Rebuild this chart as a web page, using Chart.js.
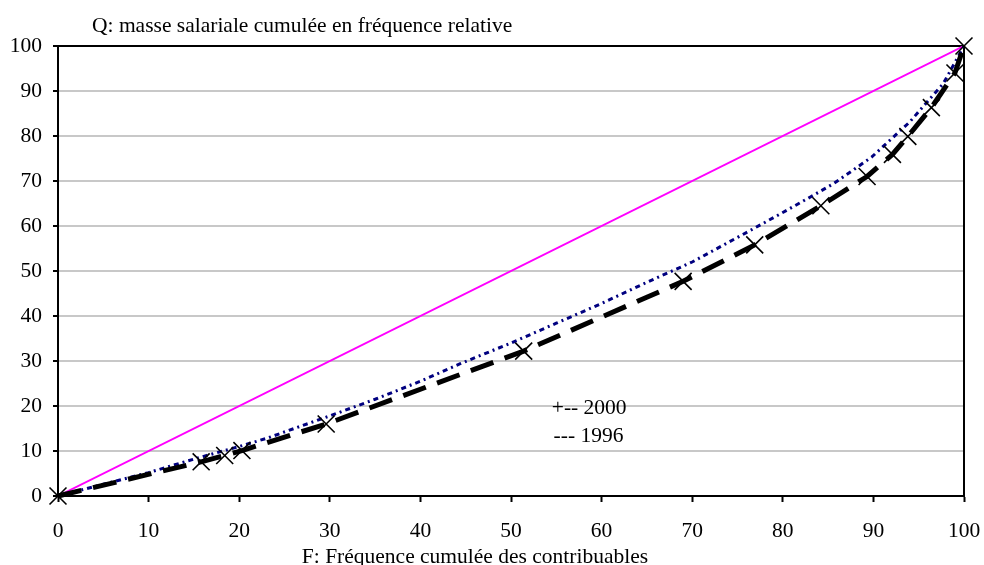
<!DOCTYPE html>
<html>
<head>
<meta charset="utf-8">
<script src="https://cdn.jsdelivr.net/npm/chart.js@4"></script>
<style>
  html, body { margin: 0; padding: 0; background: #fff; }
  #wrap { width: 984px; height: 565px; }
</style>
</head>
<body>
<div id="wrap"><canvas id="courbe"></canvas></div>
<script>
// points de la courbe 1996 (avec croix)
const freq1996 = [0, 15.8, 18.4, 20.3, 29.6, 51.4, 69.0, 76.9, 84.2, 89.3, 92.1, 93.8, 96.4, 99.0, 100];
const masse1996 = [0, 7.6, 9.0, 10.1, 16.0, 32.2, 47.7, 55.8, 64.5, 71.0, 75.9, 79.9, 86.3, 94.0, 100];

// points de la courbe 2000
const freq2000 = [0, 5, 10, 15, 20, 23, 30, 35, 40, 44.4, 50, 55, 60, 65, 70, 76.4, 80, 83, 85.6, 89.8, 94, 97.7, 100];
const masse2000 = [0, 2.6, 5.2, 8.2, 11.0, 12.8, 17.8, 21.5, 25.5, 29.4, 34.0, 38.4, 42.8, 47.5, 52.0, 59.0, 63.0, 66.4, 69.4, 75.3, 83.1, 91.6, 100];

// droite d'égalité
const freqEgalite = [0, 100];
const masseEgalite = [0, 100];

const police = '"Liberation Serif", "Times New Roman", serif';

function points(xs, ys) {
  return xs.map((x, i) => ({ x: x, y: ys[i] }));
}

// textes et cadre de la zone de tracé
const textes = {
  id: 'textes',
  beforeDatasetsDraw(chart) {
    const ctx = chart.ctx;
    const a = chart.chartArea;
    ctx.save();
    ctx.strokeStyle = '#000';
    ctx.lineWidth = 2;
    ctx.strokeRect(a.left, a.top, a.right - a.left, a.bottom - a.top);
    ctx.restore();
  },
  afterDraw(chart) {
    const ctx = chart.ctx;
    const sx = chart.scales.x, sy = chart.scales.y;
    ctx.save();
    ctx.fillStyle = '#000';
    ctx.font = '21.5px ' + police;
    ctx.textBaseline = 'middle';
    ctx.textAlign = 'left';
    ctx.fillText('Q: masse salariale cumulée en fréquence relative', 92, 26);
    ctx.fillText('+-- 2000', sx.getPixelForValue(54.5), sy.getPixelForValue(19.5));
    ctx.fillText('--- 1996', sx.getPixelForValue(54.7), sy.getPixelForValue(13.3));
    ctx.textAlign = 'center';
    ctx.fillText('F: Fréquence cumulée des contribuables', 475, 557);
    ctx.restore();
  }
};

const ctx = document.getElementById('courbe').getContext('2d');
new Chart(ctx, {
  type: 'scatter',
  data: {
    datasets: [
      {
        label: '1996',
        data: points(freq1996, masse1996),
        showLine: true,
        clip: false,
        borderColor: '#000',
        borderWidth: 5,
        borderDash: [24, 12],
        pointStyle: 'crossRot',
        pointRadius: 12,
        pointBorderWidth: 1.6,
        pointBorderColor: '#000',
        pointBackgroundColor: '#000',
        order: 1
      },
      {
        label: '2000',
        data: points(freq2000, masse2000),
        showLine: true,
        borderColor: '#000080',
        borderWidth: 3,
        borderDash: [5, 4, 2, 4],
        pointRadius: 0,
        order: 2
      },
      {
        label: 'égalité',
        data: points(freqEgalite, masseEgalite),
        showLine: true,
        borderColor: '#FF00FF',
        borderWidth: 2,
        pointRadius: 0,
        order: 3
      }
    ]
  },
  options: {
    responsive: true,
    maintainAspectRatio: false,
    animation: false,
    layout: { padding: { top: 46, right: 20, left: 0, bottom: 0 } },
    plugins: {
      legend: { display: false },
      tooltip: { enabled: false }
    },
    scales: {
      x: {
        type: 'linear',
        min: 0,
        max: 100,
        afterFit: s => { s.height = 69; s.paddingLeft = 0; s.paddingRight = 0; },
        ticks: { stepSize: 10, color: '#000', padding: 16, font: { family: police, size: 21.5 } },
        grid: { drawOnChartArea: false, tickLength: 6, tickColor: '#000', tickWidth: 2 },
        border: { color: '#000', width: 2 }
      },
      y: {
        min: 0,
        max: 100,
        afterFit: s => { s.width = 58; s.paddingTop = 0; s.paddingBottom = 0; },
        ticks: { stepSize: 10, color: '#000', padding: 11, font: { family: police, size: 21.5 } },
        grid: { color: '#c8c8c8', lineWidth: 2, tickLength: 5, tickColor: '#000', tickWidth: 2 },
        border: { color: '#000', width: 2 }
      }
    }
  },
  plugins: [textes]
});
</script>
</body>
</html>
